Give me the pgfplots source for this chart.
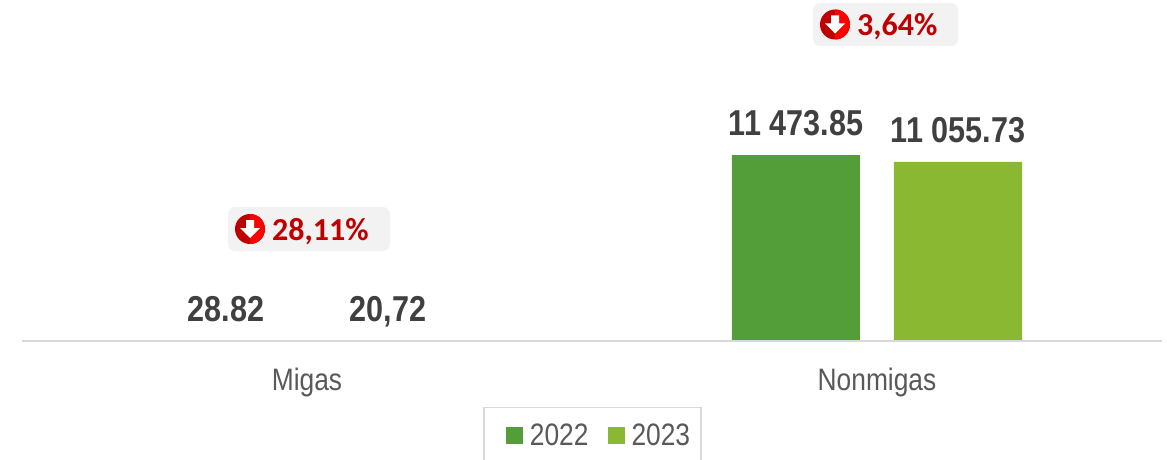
\documentclass[border=0pt]{standalone}
\usepackage{pgfplots}
\pgfplotsset{compat=1.18}
\usepackage{fontspec}
\setmainfont{Liberation Sans}
\newfontfamily\narrow[FakeStretch=0.85]{Liberation Sans}
\newfontfamily\callout{Carlito}
\definecolor{gA}{HTML}{549E39}
\definecolor{gB}{HTML}{8AB833}
\definecolor{lab}{HTML}{404040}
\definecolor{tick}{HTML}{595959}
\definecolor{rule}{HTML}{D9D9D9}
\definecolor{boxc}{HTML}{F2F2F2}
\definecolor{rd}{HTML}{C00000}
\newcommand{\badge}[5]{% x0,x1,ytop,ybot,text
  \fill[boxc,rounded corners=7pt] (#1,#3) rectangle (#2,#4);
  \pgfmathsetmacro{\cx}{#1+22}
  \pgfmathsetmacro{\cy}{(#3+#4)/2}
  \fill[rd] (\cx,\cy) circle (15);
  \begin{scope}
    \clip (\cx,\cy-16) rectangle (\cx+16,\cy+16);
    \fill[red] (\cx,\cy) circle (15);
  \end{scope}
  \fill[white] (\cx-4,\cy-9) -- (\cx+4,\cy-9) -- (\cx+4,\cy-1) -- (\cx+10,\cy-1) -- (\cx,\cy+9) -- (\cx-10,\cy-1) -- (\cx-4,\cy-1) -- cycle;
  \node[anchor=base west,inner sep=0pt,text=rd,font=\callout\bfseries\fontsize{32}{33}\selectfont] at (\cx+22,\cy+11) {#5};
}
\begin{document}
\begin{tikzpicture}[x=1pt,y=1pt]
\path[use as bounding box] (0,0) rectangle (1167,459);
\begin{axis}[
  at={(22pt,118pt)}, anchor=south west,
  scale only axis, width=1140pt, height=223pt,
  xmin=-0.5, xmax=1.5, ymin=0, ymax=13756.7,
  axis x line=bottom, axis y line=none, axis on top,
  x axis line style={-,draw=rule,line width=1.5pt},
  xtick={0,1}, xticklabels={Migas,Nonmigas},
  major tick length=0pt,
  xticklabel style={text=tick,font=\narrow\fontsize{31}{32}\selectfont,yshift=-25pt,text height=21pt,text depth=6pt},
  ybar, bar width=128pt,
  point meta=explicit symbolic,
  nodes near coords,
  every node near coord/.append style={text=lab,font=\narrow\bfseries\fontsize{36}{37}\selectfont,inner sep=0pt,yshift=19pt,text height=26pt,text depth=0pt},
  legend columns=2,
  legend style={at={(570.5pt,-94pt)},anchor=center,draw=rule,line width=1.5pt,inner xsep=9pt,inner ysep=14pt,
    font=\narrow\fontsize{31}{32}\selectfont,text=tick,/tikz/every even column/.style={column sep=4pt}},
  legend image code/.code={\path (0pt,0pt) (35pt,0pt);\fill[#1] (13pt,-8.5pt) rectangle (30pt,8.5pt);},
]
\addplot[fill=gA,draw=none,bar shift=-81pt] coordinates {(0,28.82)[28.82] (1,11473.85)[11 473.85]};
\addplot[fill=gB,draw=none,bar shift=81pt] coordinates {(0,20.72)[20,72] (1,11055.73)[11 055.73]};
\addlegendentry{2022}
\addlegendentry{2023}
\end{axis}
\begin{scope}[yshift=459pt,y=-1pt]
\badge{813}{958}{3}{46}{3,64\%}
\badge{228}{390}{207}{251}{28,11\%}
\end{scope}
\end{tikzpicture}
\end{document}
